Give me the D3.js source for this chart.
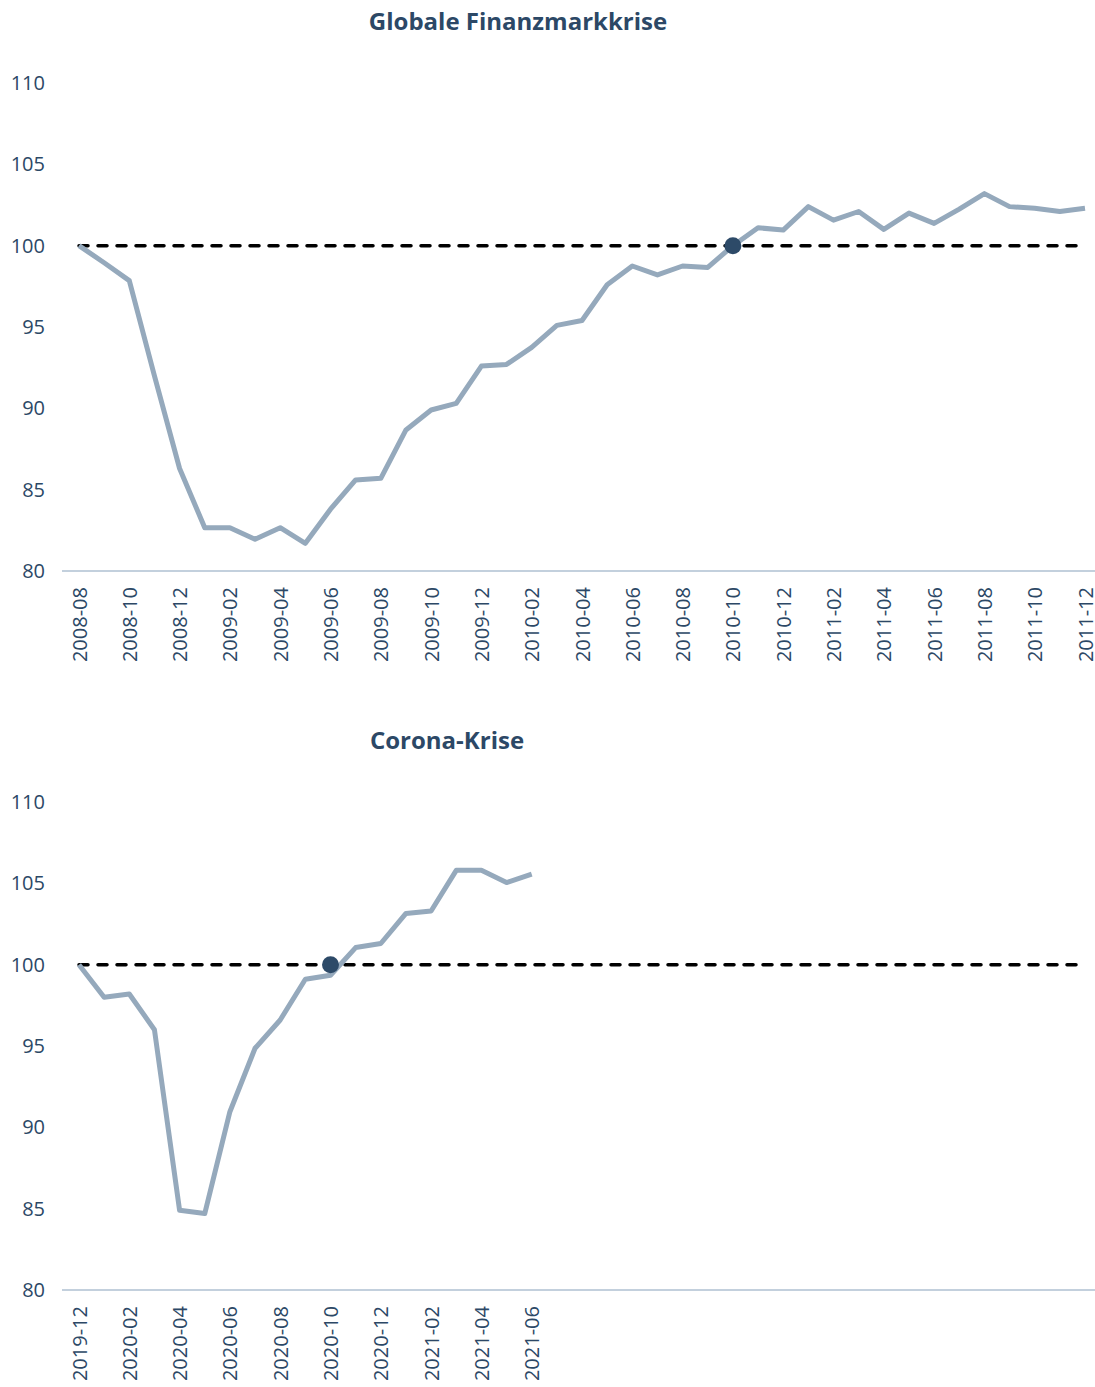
<!DOCTYPE html>
<html>
<head>
<meta charset="utf-8">
<script src="https://cdn.jsdelivr.net/npm/d3@7"></script>
<style>
  body { margin: 0; background: #fff; }
  svg text { font-family: "Open Sans", sans-serif; fill: #2c4866; }
</style>
</head>
<body>
<svg id="chart" width="1095" height="1387"></svg>
<script>
// months of each panel (monthly index, labels every 2nd month)
var gfkMonths = ["2008-08","2008-09","2008-10","2008-11","2008-12","2009-01","2009-02","2009-03","2009-04","2009-05",
  "2009-06","2009-07","2009-08","2009-09","2009-10","2009-11","2009-12","2010-01","2010-02","2010-03",
  "2010-04","2010-05","2010-06","2010-07","2010-08","2010-09","2010-10","2010-11","2010-12","2011-01",
  "2011-02","2011-03","2011-04","2011-05","2011-06","2011-07","2011-08","2011-09","2011-10","2011-11","2011-12"];
var gfkValues = [100, 98.95, 97.85, 92, 86.3, 82.66, 82.66, 81.95, 82.66, 81.7,
  83.8, 85.6, 85.7, 88.67, 89.9, 90.3, 92.6, 92.7, 93.75, 95.1,
  95.4, 97.6, 98.75, 98.2, 98.75, 98.66, 100, 101.1, 100.96, 102.4,
  101.57, 102.1, 101.0, 102.0, 101.37, 102.25, 103.2, 102.4, 102.3, 102.1, 102.3];

var coronaMonths = ["2019-12","2020-01","2020-02","2020-03","2020-04","2020-05","2020-06","2020-07","2020-08","2020-09",
  "2020-10","2020-11","2020-12","2021-01","2021-02","2021-03","2021-04","2021-05","2021-06"];
var coronaValues = [100, 98.0, 98.2, 96.0, 84.9, 84.7, 90.96, 94.86, 96.6, 99.1,
  99.35, 101.05, 101.3, 103.15, 103.3, 105.8, 105.8, 105.05, 105.57];

var yTicks = [80, 85, 90, 95, 100, 105, 110];
var baseline = 100;

var svg = d3.select("#chart");

var x = d3.scaleLinear()
    .domain([0, 40])
    .range([79, 1085]);

function panel(title, titleX, titleY, yTop, yBottom, months, values, dotIndex) {
    var y = d3.scaleLinear()
        .domain([80, 110])
        .range([yBottom, yTop]);

    var g = svg.append("g");

    g.append("text")
        .attr("x", titleX)
        .attr("y", titleY)
        .attr("text-anchor", "middle")
        .style("font-size", "24px")
        .style("font-weight", "bold")
        .text(title);

    // y axis labels, no line
    var yAxis = g.append("g")
        .attr("transform", "translate(45,0)")
        .call(d3.axisLeft(y).tickValues(yTicks).tickSize(0).tickPadding(0));
    yAxis.select(".domain").remove();
    yAxis.selectAll("text")
        .style("font-size", "20px")
        .style("font-family", "'Open Sans', sans-serif")
        .attr("fill", "#2c4866");

    // x axis line
    g.append("line")
        .attr("x1", 62).attr("x2", 1095)
        .attr("y1", y(80)).attr("y2", y(80))
        .attr("stroke", "#c3d0dd")
        .attr("stroke-width", 2);

    var tickIdx = d3.range(0, months.length, 2);
    var xAxis = g.append("g")
        .attr("transform", "translate(0," + y(80) + ")")
        .call(d3.axisBottom(x).tickValues(tickIdx).tickSize(0)
            .tickFormat(function(i) { return months[i]; }));
    xAxis.select(".domain").remove();
    xAxis.selectAll("text")
        .style("font-size", "20px")
        .style("font-family", "'Open Sans', sans-serif")
        .attr("fill", "#2c4866")
        .attr("transform", "rotate(-90)")
        .attr("text-anchor", "end")
        .attr("x", -16)
        .attr("y", 0)
        .attr("dy", "0.35em");

    // dashed 100 line
    g.append("line")
        .attr("x1", x(0)).attr("x2", x(40))
        .attr("y1", y(baseline)).attr("y2", y(baseline))
        .attr("stroke", "#000")
        .attr("stroke-width", 3.5)
        .attr("stroke-dasharray", "9,10")
        .attr("stroke-linecap", "round");

    var line = d3.line()
        .x(function(d, i) { return x(i); })
        .y(function(d) { return y(d); });

    g.append("path")
        .datum(values)
        .attr("d", line)
        .attr("fill", "none")
        .attr("stroke", "#95a9bc")
        .attr("stroke-width", 5)
        .attr("stroke-linejoin", "round");

    g.append("circle")
        .attr("cx", x(dotIndex))
        .attr("cy", y(baseline))
        .attr("r", 8.5)
        .attr("fill", "#2d4a68");
}

panel("Globale Finanzmarkkrise", 518, 30, 83, 571, gfkMonths, gfkValues, 26);
panel("Corona-Krise", 447, 749, 802, 1290, coronaMonths, coronaValues, 10);
</script>
</body>
</html>
